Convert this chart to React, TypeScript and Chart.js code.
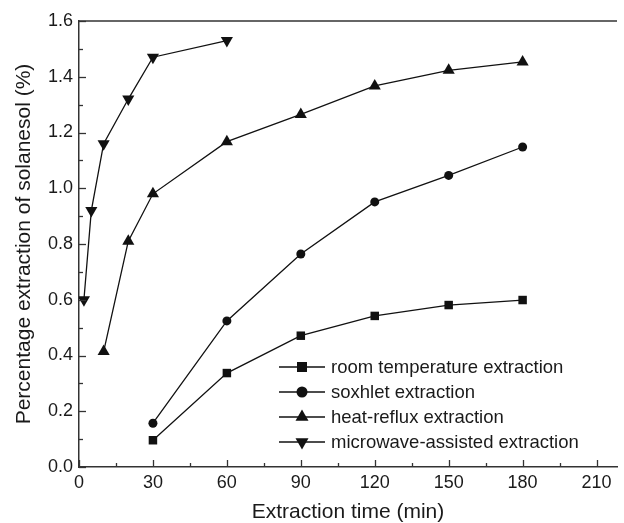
import React, { useEffect, useRef } from "react";
import { Chart, registerables } from "chart.js";

Chart.register(...registerables);

const roomTimes = [30, 60, 90, 120, 150, 180];
const roomValues = [0.096, 0.337, 0.471, 0.542, 0.581, 0.599];

const soxhletTimes = [30, 60, 90, 120, 150, 180];
const soxhletValues = [0.157, 0.524, 0.764, 0.951, 1.046, 1.148];

const refluxTimes = [10, 20, 30, 60, 90, 120, 150, 180];
const refluxValues = [0.414, 0.81, 0.98, 1.167, 1.265, 1.367, 1.423, 1.453];

const microTimes = [2, 5, 10, 20, 30, 60];
const microValues = [0.6, 0.92, 1.16, 1.32, 1.47, 1.53];

const seriesLabels = [
  "room temperature extraction",
  "soxhlet extraction",
  "heat-reflux extraction",
  "microwave-assisted extraction",
];

const xTicks = [0, 30, 60, 90, 120, 150, 180, 210];
const yTicks = [0, 0.2, 0.4, 0.6, 0.8, 1.0, 1.2, 1.4, 1.6];

const INK = "#111";
const AXIS = "#333";
const FONT = "'Liberation Sans', Arial, sans-serif";

function pts(xs: number[], ys: number[]) {
  return xs.map((x, i) => ({ x, y: ys[i] }));
}

function drawMarker(ctx: CanvasRenderingContext2D, kind: string, x: number, y: number) {
  ctx.beginPath();
  if (kind === "rect") {
    ctx.rect(x - 5, y - 5, 10, 10);
  } else if (kind === "circle") {
    ctx.arc(x, y, 5.5, 0, Math.PI * 2);
  } else if (kind === "up") {
    const r = 7.5;
    ctx.moveTo(x, y - r);
    ctx.lineTo(x + r * 0.866, y + r * 0.5);
    ctx.lineTo(x - r * 0.866, y + r * 0.5);
    ctx.closePath();
  } else {
    const r = 7.5;
    ctx.moveTo(x, y + r);
    ctx.lineTo(x + r * 0.866, y - r * 0.5);
    ctx.lineTo(x - r * 0.866, y - r * 0.5);
    ctx.closePath();
  }
  ctx.fillStyle = INK;
  ctx.fill();
}

const decorPlugin = {
  id: "decor",
  afterDraw(chart: any) {
    const { ctx, chartArea, scales } = chart;
    const xs = scales.x;
    const ys = scales.y;
    ctx.save();
    ctx.strokeStyle = AXIS;
    ctx.lineWidth = 1.5;
    // top frame line
    ctx.beginPath();
    ctx.moveTo(chartArea.left, chartArea.top);
    ctx.lineTo(chartArea.right, chartArea.top);
    ctx.stroke();
    // inward ticks on x axis
    ctx.lineWidth = 1.3;
    for (let v = 0; v <= 215; v += 15) {
      const px = Math.round(xs.getPixelForValue(v)) + 0.5;
      const len = v % 30 === 0 ? 7 : 4;
      ctx.beginPath();
      ctx.moveTo(px, chartArea.bottom);
      ctx.lineTo(px, chartArea.bottom - len);
      ctx.stroke();
    }
    // inward ticks on y axis
    for (let i = 0; i <= 16; i++) {
      const py = Math.round(ys.getPixelForValue(i / 10)) + 0.5;
      const len = i % 2 === 0 ? 7 : 4;
      ctx.beginPath();
      ctx.moveTo(chartArea.left, py);
      ctx.lineTo(chartArea.left + len, py);
      ctx.stroke();
    }
    // legend
    const kinds = ["rect", "circle", "up", "down"];
    const rows = [367, 392, 417, 442];
    ctx.font = `18.5px ${FONT}`;
    ctx.textBaseline = "middle";
    ctx.textAlign = "left";
    seriesLabels.forEach((label, i) => {
      const y = rows[i];
      ctx.strokeStyle = INK;
      ctx.lineWidth = 1.3;
      ctx.beginPath();
      ctx.moveTo(279, y);
      ctx.lineTo(325, y);
      ctx.stroke();
      drawMarker(ctx, kinds[i], 302, y);
      ctx.fillStyle = "#1a1a1a";
      ctx.fillText(label, 331, y + 1);
    });
    ctx.restore();
  },
};

export default function App() {
  const ref = useRef<HTMLCanvasElement | null>(null);

  useEffect(() => {
    if (!ref.current) return;
    const common = {
      borderColor: INK,
      borderWidth: 1.3,
      pointBackgroundColor: INK,
      pointBorderColor: INK,
      pointBorderWidth: 0,
      showLine: true,
      fill: false,
    };
    const chart = new Chart(ref.current, {
      type: "scatter",
      data: {
        datasets: [
          { ...common, label: seriesLabels[0], data: pts(roomTimes, roomValues), pointStyle: "rect", pointRadius: 6 },
          { ...common, label: seriesLabels[1], data: pts(soxhletTimes, soxhletValues), pointStyle: "circle", pointRadius: 4.5 },
          { ...common, label: seriesLabels[2], data: pts(refluxTimes, refluxValues), pointStyle: "triangle", pointRadius: 7 },
          { ...common, label: seriesLabels[3], data: pts(microTimes, microValues), pointStyle: "triangle", pointRotation: 180, pointRadius: 7 },
        ],
      },
      options: {
        animation: false,
        responsive: false,
        maintainAspectRatio: false,
        layout: { padding: { top: 21, right: 0, left: 0, bottom: 0 } },
        plugins: { legend: { display: false }, tooltip: { enabled: false } },
        scales: {
          x: {
            type: "linear",
            min: 0,
            max: 218.3,
            afterFit: (s: any) => { s.height = 56; },
            afterBuildTicks: (s: any) => { s.ticks = xTicks.map((v) => ({ value: v })); },
            grid: { display: false, drawTicks: false },
            border: { display: true, color: AXIS, width: 1.5 },
            ticks: {
              padding: 5,
              color: "#1a1a1a",
              font: { family: FONT, size: 18 },
              maxRotation: 0,
              callback: (v: any) => String(v),
            },
            title: {
              display: true,
              text: "Extraction time (min)",
              color: "#1a1a1a",
              font: { family: FONT, size: 21, lineHeight: 1 },
              padding: { top: 0, bottom: 0 },
            },
          },
          y: {
            type: "linear",
            min: 0,
            max: 1.6,
            afterFit: (s: any) => { s.width = 79; },
            afterBuildTicks: (s: any) => { s.ticks = yTicks.map((v) => ({ value: v })); },
            grid: { display: false, drawTicks: false },
            border: { display: true, color: AXIS, width: 1.5 },
            ticks: {
              padding: 6,
              color: "#1a1a1a",
              font: { family: FONT, size: 18 },
              callback: (v: any) => Number(v).toFixed(1),
            },
            title: {
              display: true,
              text: "Percentage extraction of solanesol (%)",
              color: "#1a1a1a",
              font: { family: FONT, size: 21 },
              padding: { top: 12, bottom: 0 },
            },
          },
        },
      },
      plugins: [decorPlugin],
    } as any);
    return () => chart.destroy();
  }, []);

  return (
    <div style={{ position: "fixed", left: 0, top: 0, width: 624, height: 523, background: "#fff" }}>
      <canvas ref={ref} width={624} height={523} style={{ width: 624, height: 523, display: "block" }} />
    </div>
  );
}
